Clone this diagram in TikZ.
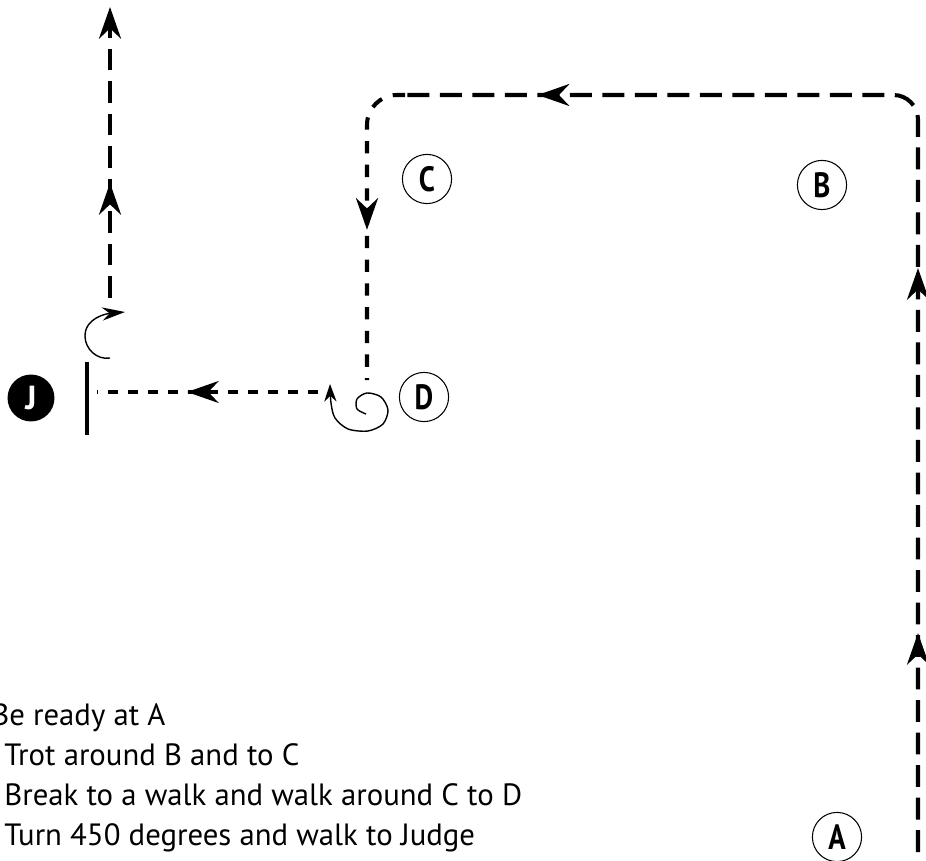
\documentclass[tikz,border=0pt]{standalone}
\usepackage{fontspec}
\setmainfont{PT Sans}
\newfontfamily\markfont[FakeStretch=0.82]{PT Sans}
\usetikzlibrary{arrows.meta, decorations.markings}

\newcommand\tipmark{\pgfsetdash{}{0pt}\arrow{Stealth[length=18pt,width=12.5pt]}}

\tikzset{
  route/.style={line width=2.3pt, dash pattern=on 12.5pt off 6pt},
  walk/.style={line width=2.3pt, dash pattern=on 7pt off 6.5pt},
  judgeline/.style={line width=1.8pt, dash pattern=on 5.7pt off 5.7pt},
  bigtip/.style={-{Stealth[length=18pt,width=12.5pt]}},
  turn/.style={line width=0.8pt},
  letter/.style={circle, draw, line width=0.6pt, minimum size=28pt, inner sep=0pt,
    font=\markfont\bfseries\fontsize{20}{20}\selectfont},
  judge/.style={circle, fill=black, text=white, minimum size=26.7pt, inner sep=0pt,
    font=\bfseries\fontsize{19}{19}\selectfont},
  step text/.style={anchor=base west, inner sep=0pt, font=\fontsize{17.5}{20}\selectfont}
}

\begin{document}
\begin{tikzpicture}[x=0.02cm, y=0.02cm]
  \useasboundingbox (0,0) rectangle (926,-861);

  % markers
  \node[letter] (A) at (837,-837) {A};
  \node[letter] (B) at (822,-185) {B};
  \node[letter] (C) at (427,-179) {C};
  \node[letter] (D) at (424,-397) {D};
  \node[judge] (J) at (31,-398) {J};

  % path points
  \coordinate (start) at (918,-852);
  \coordinate (brk) at (405,-95);
  \coordinate (atD) at (367,-380);
  \coordinate (jfrom) at (318,-392);
  \coordinate (jto) at (97,-392);
  \coordinate (bar1) at (87,-362);
  \coordinate (bar2) at (87,-435);
  \coordinate (exit1) at (110,-298);
  \coordinate (exit2) at (110,-7);

  % trot A -> B -> C
  \draw[route, rounded corners=14pt,
    postaction={decorate, decoration={markings,
      mark=at position 4.38cm with {\tipmark},
      mark=at position 11.68cm with {\tipmark},
      mark=at position 22.54cm with {\tipmark}}}]
    (start) |- (brk);
  % walk C -> D
  \draw[walk, rounded corners=17pt,
    postaction={decorate, decoration={markings,
      mark=at position 3.2cm with {\tipmark}}}]
    (brk) -| (atD);

  % 450 degree turn at D
  \draw[turn, -{Stealth[length=10pt,width=7pt]}] plot[smooth] coordinates {
    (366,-414) (357,-409) (357,-399) (367,-393) (381,-397) (388,-410)
    (383,-424) (368,-431) (348,-429) (335,-418) (331,-403) (330,-384)};

  % walk to judge
  \draw[judgeline,
    postaction={decorate, decoration={markings,
      mark=at position 2.62cm with {\tipmark}}}]
    (jfrom) -- (jto);
  \draw[line width=2pt] (bar1) -- (bar2);

  % turn away and leave
  \draw[turn, -{Stealth[length=13pt,width=7.5pt]}]
    (110,-358) to[out=190,in=270] (85,-336) to[out=90,in=185] (125,-312);
  \draw[route, bigtip,
    postaction={decorate, decoration={markings,
      mark=at position 2.3cm with {\tipmark}}}]
    (exit1) -- (exit2);

  % steps
  \node[step text] (s1) at (-9,-725) {Be ready at A};
  \node[step text] (s2) at (4,-765) {Trot around B and to C};
  \node[step text] (s3) at (4,-805) {Break to a walk and walk around C to D};
  \node[step text] (s4) at (4,-845) {Turn 450 degrees and walk to Judge};
\end{tikzpicture}
\end{document}
